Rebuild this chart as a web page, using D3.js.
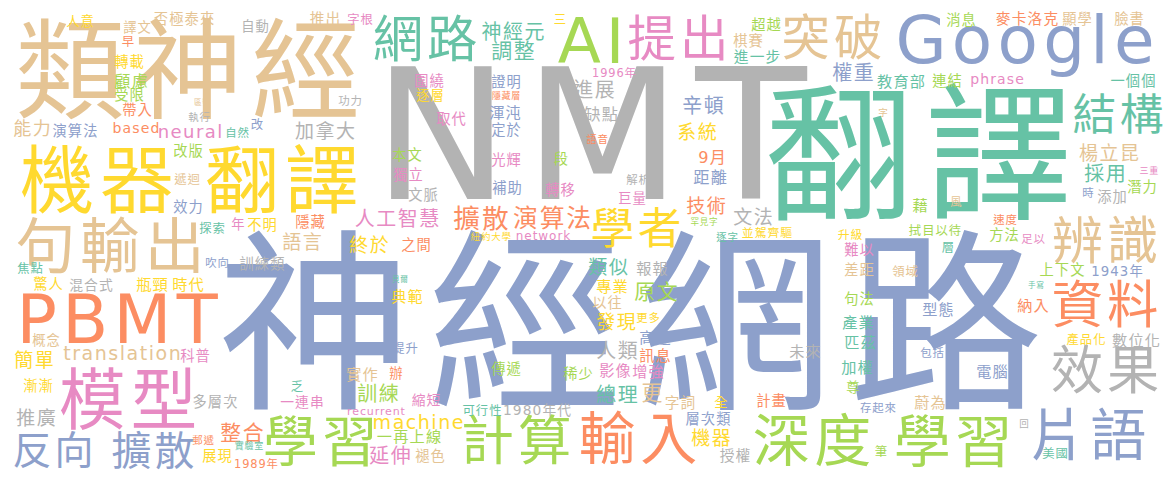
<!DOCTYPE html>
<html>
<head>
<meta charset="utf-8">
<script src="https://cdn.jsdelivr.net/npm/d3@7"></script>
<style>
  body { margin: 0; background: #fff; }
  svg text { font-family: "DejaVu Sans", "Noto Sans CJK TC", sans-serif; }
</style>
</head>
<body>
<script>
// words of the cloud, their weight (relative frequency) and colour group
const words = ["神經網路","NMT","翻譯","類神經","機器","翻譯","模型","PBMT","Google","AI",
  "句輸出","輸入","深度","學習","片語","學習","計算","效果","資料","辨識",
  "網路","突破","提出","學者","結構","擴散","反向","擴散","演算法","整合",
  "人工智慧","進展","終於","權重","辛頓","系統","距離","技術","文法","類似",
  "原文","人類","總理","發現","更","楊立昆","採用","加拿大","語言","神經元",
  "調整","能力","neural","translation","machine","簡單","推廣","訓練","演算法","延伸",
  "瓶頸","時代","訓練類","多層次","混合式","1980年代","一再上線","1943年","1996年","1989年",
  "上下文","數位化","phrase","教育部","連結","一個個","麥卡洛克","顯學","臉書","消息",
  "超越","棋賽","進一步","缺點","語音","9月","解析","巨量","罕見字","逐字",
  "並駕齊驅","升級","難以","差距","句法","以往","專業","報報","更多","高速",
  "訊息","影像","增強","字詞","全","層次類","機器","授權","計畫","未來",
  "產業","匹茲","加權","尊","存起來","筆","包括","電腦","蔚為","回",
  "美國","產品化","稀少","傳遞","可行性","提升","實作","辦","縮短","recurrent",
  "褪色","一連串","乏","郵遞","實驗室","展現","概念","科普","漸漸","焦點",
  "吹向","驚人","遞迴","效力","探索","年","不明","人意","譯文","否極泰來",
  "自動","早","轉載","顧慮","受限","帶入","區號","執行","based","自然",
  "改","改版","推出","字根","三","圍繞","逐層","功力","證明","隱藏層",
  "取代","渾沌","定於","本文","光輝","段","獨立","文脈","補助","轉移",
  "隱藏","之間","紐約大學","network","貝爾","典範","字","三重","潛力","時",
  "添加","藉","風","速度","拭目以待","方法","足以","層","領域","手寫",
  "納入","型態"];

const weights = [205,182,156,115,78,78,70,67,66,63,
  63,60,60,60,59,58,56,55,54,54,
  53,51,51,46,46,42,41,28,26,22,
  21,21,20,21,21,20,17,20,20,20,
  22,21,21,20,22,20,21,20,20,21,
  22,19,18,19,19,20,20,21,15,21,
  16,16,15,15,14.5,14.5,16,14,12,12,
  15,16,14,16,15,15,15.5,15,15,15,
  15,15,15.5,17,11,17,12,14,9,11,
  12.5,12.5,15,15,15,15,16,16,12,16,
  16,16,16,15.5,14,15,20,15.5,15,16,
  16,16,16,14,12,13,12,16,16,10,
  13,13,15,15,13,13,16,14,14.5,11,
  15,14.5,13,11,9.5,15,14,15,15,13,
  12,15,13,15,13,14,15,14,14,15,
  14,13,15,17,15,15,8,11,14,12,
  13,15,15.5,13,13,15,14,12,15,9.5,
  15,16,15,15,15,15,15,15,15,15,
  15,15,10,12,8,16,10,9.5,15,12,
  15,16,12,12,13,15,12,13,13,8,
  16,16];

// Set2 colour index per word
const groups = [2,7,0,6,5,5,3,1,2,4,
  6,1,4,4,2,4,4,7,1,6,
  0,6,3,5,0,2,2,1,1,1,
  3,7,5,2,2,5,2,1,7,0,
  4,7,0,5,6,6,0,7,6,0,
  0,6,3,6,5,5,7,4,2,3,
  5,5,7,7,7,7,4,2,3,1,
  4,7,3,0,4,0,1,6,6,4,
  4,6,0,7,1,1,7,3,4,0,
  5,5,3,6,4,6,5,7,5,2,
  1,3,3,6,5,2,5,7,1,7,
  0,0,0,4,2,4,2,2,6,7,
  0,5,4,4,0,2,6,1,3,3,
  6,3,0,1,0,5,6,3,5,0,
  2,5,6,2,0,3,5,5,6,6,
  7,1,5,4,4,1,6,7,1,0,
  2,4,6,3,5,3,5,7,2,1,
  3,2,2,4,3,4,3,7,2,3,
  1,1,5,3,0,5,6,3,4,2,
  7,4,6,1,4,4,3,0,6,0,
  1,2];

// cloud layout: word centres on a 1175 x 482 canvas
const layout = [[630,322],[590,131.5],[919,153],[188,70],[97,180],[282,180],[128,399],[117,318],[1025,39],[591,40],
  [110,246],[638,438],[812,440],[953,441],[1088,434],[320,441],[516,440],[1105,370],[1105,304],[1105,240],
  [425,38],[832,37],[678,38],[636,228],[1118,114],[153,450],[53,450],[481,218],[552,218],[242,432],
  [397,219],[594,90],[369,245],[853,73],[703,106],[697,132],[710,177],[706,206],[753,217],[608,267],
  [656,291],[617,351],[617,395],[616,322],[652,392],[1109,153],[1105,174],[325,131],[302,242],[513,32],
  [513,50],[32,128],[190,131],[122,353],[418,422],[34,360],[36,418],[378,394],[75,131],[390,456],
  [152,284],[188,284],[262,264],[215,402],[91,285],[537,410],[409,436],[1117,271],[614,73],[256,464],
  [1062,270],[1136,340],[997,79],[901,81],[947,81],[1133,81],[1027,19],[1077,19],[1129,19],[961,20],
  [766,25],[748,41],[757,57],[601,114],[597,139],[712,157],[638,180],[632,198],[704,222],[727,237],
  [767,233],[850,235],[859,250],[859,270],[859,299],[607,303],[612,286],[652,268],[648,318],[655,337],
  [655,355],[615,370],[648,371],[680,403],[721,402],[708,419],[711,438],[735,456],[771,401],[805,351],
  [858,322],[860,342],[857,367],[853,387],[878,408],[881,451],[932,353],[992,371],[930,402],[1024,423],
  [1055,453],[1086,339],[578,374],[506,369],[482,410],[405,348],[362,374],[396,373],[426,400],[376,411],
  [430,456],[302,402],[297,386],[203,440],[249,446],[217,456],[46,340],[195,356],[38,386],[30,268],
  [217,263],[48,284],[187,179],[188,207],[212,228],[238,224],[262,225],[80,21],[137,27],[184,19],
  [255,26],[128,41],[129,62],[131,81],[129,95],[137,110],[202,102],[199,117],[136,128],[237,133],
  [257,124],[188,151],[325,19],[360,19],[560,19],[429,81],[430,95],[350,101],[506,82],[506,96],
  [451,119],[505,112],[506,130],[407,155],[506,160],[561,159],[408,175],[423,195],[507,188],[560,190],
  [310,222],[416,245],[491,236],[543,236],[400,279],[407,296],[883,112],[1149,171],[1142,187],[1088,193],
  [1112,197],[920,205],[956,202],[1005,220],[935,230],[1004,235],[1033,239],[948,247],[905,271],[1036,285],
  [1033,305],[938,309]];

const width = 1175, height = 482;

const svg = d3.select('body').append('svg')
  .attr('width', width)
  .attr('height', height)
  .style('background', '#fff');

const x = d3.scaleLinear().domain([0, 1175]).range([0, width]);
const y = d3.scaleLinear().domain([0, 482]).range([0, height]);
const fontSize = d3.scaleLinear().domain([0, d3.max(weights)]).range([0, 205]);
const color = d3.scaleOrdinal().domain(d3.range(8)).range(d3.schemeSet2);

// the CJK font fills more of its em box than the cloud's original font,
// so CJK words get a slightly smaller size and a little extra spacing
const isCJK = t => /[\u3400-\u9fff]/.test(t);
const size = d => fontSize(d.weight) * (isCJK(d.text) ? 0.95 : 1);
const spacing = d => 0.08 * size(d);

const data = words.map((w, i) => ({
  text: w, weight: weights[i], group: groups[i], pos: layout[i]
}));

svg.selectAll('text.word')
  .data(data)
  .enter().append('text')
  .attr('class', 'word')
  .attr('text-anchor', 'middle')
  .attr('x', d => x(d.pos[0]) + spacing(d) / 2) //<-- undo trailing letter spacing
  .attr('y', d => y(d.pos[1]) + 0.37 * size(d)) //<-- centre to baseline
  .attr('font-size', d => size(d))
  .attr('letter-spacing', d => spacing(d))
  .attr('fill', d => color(d.group))
  .text(d => d.text);
</script>
</body>
</html>
